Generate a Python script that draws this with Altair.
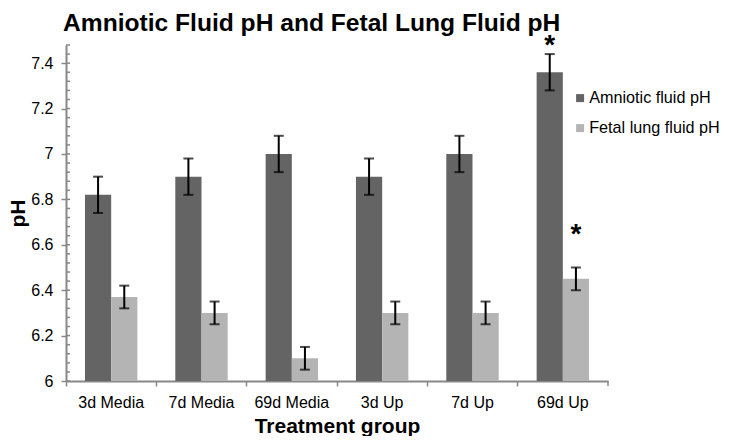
import altair as alt
import pandas as pd

groups = ["3d Media", "7d Media", "69d Media", "3d Up", "7d Up", "69d Up"]
series = ["Amniotic fluid pH", "Fetal lung fluid pH"]
amniotic = [6.82, 6.90, 7.00, 6.90, 7.00, 7.36]
amniotic_err = [0.08, 0.08, 0.08, 0.08, 0.08, 0.08]
lung = [6.37, 6.30, 6.10, 6.30, 6.30, 6.45]
lung_err = [0.05, 0.05, 0.05, 0.05, 0.05, 0.05]
major_ticks = [6.0, 6.2, 6.4, 6.6, 6.8, 7.0, 7.2, 7.4]
star_groups = ["69d Up", "69d Up"]
star_series = ["Amniotic fluid pH", "Fetal lung fluid pH"]
star_y = [7.50, 6.67]

colors = ["#646464", "#b4b4b4"]
axis_grey = "#888888"

rows = []
for g, v, e in zip(groups, amniotic, amniotic_err):
    rows.append({"group": g, "series": series[0], "value": v, "lo": v - e, "hi": v + e})
for g, v, e in zip(groups, lung, lung_err):
    rows.append({"group": g, "series": series[1], "value": v, "lo": v - e, "hi": v + e})
df = pd.DataFrame(rows)

minor = pd.DataFrame({"t": [round(6.0 + 0.04 * i, 2) for i in range(38)]})
stars = pd.DataFrame({"group": star_groups, "series": star_series, "y": star_y, "txt": ["*", "*"]})

ydom = [6.0, 7.48]
xscale = alt.Scale(domain=groups, paddingInner=0, paddingOuter=0)
xoff = alt.XOffset("series:N", scale=alt.Scale(domain=series, paddingInner=0, paddingOuter=0.724))

x_enc = alt.X(
    "group:N", scale=xscale, sort=groups,
    axis=alt.Axis(title="Treatment group", labelAngle=0, bandPosition=0,
                  labelFontSize=16, labelColor="#000", labelFont="Liberation Sans",
                  labelPadding=8, tickSize=5, titleFontSize=21, titleFont="Liberation Sans",
                  titleFontWeight="bold", titleColor="#000", titlePadding=5,
                  domainColor=axis_grey, domainWidth=2, tickColor=axis_grey, tickWidth=1.5,
                  grid=False),
)

y_enc = alt.Y(
    "value:Q", scale=alt.Scale(domain=ydom, nice=False, zero=False),
    axis=alt.Axis(title="pH", values=major_ticks, format="~g", labelFontSize=16,
                  labelColor="#000", labelFont="Liberation Sans", labelPadding=8,
                  tickSize=5, tickColor=axis_grey, tickWidth=1.5, domainColor=axis_grey,
                  domainWidth=2, titleFontSize=21, titleFont="Liberation Sans",
                  titleFontWeight="bold", titleColor="#000", titlePadding=2, grid=False),
)

bars = alt.Chart(df).mark_bar().encode(
    x=x_enc,
    xOffset=xoff,
    y=y_enc,
    y2=alt.datum(6.0),
    color=alt.Color("series:N", scale=alt.Scale(domain=series, range=colors),
                    legend=alt.Legend(title=None, orient="none", legendX=506, legendY=45,
                                      symbolType="square", symbolSize=64, symbolStrokeWidth=0,
                                      labelFontSize=16.2, labelFont="Liberation Sans",
                                      labelColor="#000", rowPadding=13, labelOffset=1,
                                      padding=0, labelLimit=200)),
)

err = alt.Chart(df).mark_rule(color="#000", strokeWidth=2).encode(
    x=alt.X("group:N", scale=xscale, sort=groups),
    xOffset=xoff,
    y=alt.Y("lo:Q"),
    y2="hi:Q",
)
cap_lo = alt.Chart(df).mark_tick(color="#000", thickness=2, size=10).encode(
    x=alt.X("group:N", scale=xscale, sort=groups), xOffset=xoff, y="lo:Q")
cap_hi = alt.Chart(df).mark_tick(color="#000", thickness=2, size=10).encode(
    x=alt.X("group:N", scale=xscale, sort=groups), xOffset=xoff, y="hi:Q")

minor_ticks = alt.Chart(minor).mark_rule(color=axis_grey, strokeWidth=1.5).encode(
    y="t:Q", x=alt.value(0), x2=alt.value(4))

end_tick = alt.Chart(pd.DataFrame({"a": [0]})).mark_rule(color=axis_grey, strokeWidth=1.5).encode(
    x=alt.value(542), y=alt.value(336), y2=alt.value(341))

star = alt.Chart(stars).mark_text(fontSize=28, fontWeight="bold", color="#000",
                                  baseline="middle", dy=6, font="Liberation Sans").encode(
    x=alt.X("group:N", scale=xscale, sort=groups), xOffset=xoff, y="y:Q", text="txt:N")

chart = alt.layer(bars, err, cap_lo, cap_hi, minor_ticks, end_tick, star).properties(
    width=542, height=336,
    autosize=alt.AutoSizeParams(type="none"),
    padding={"left": 58, "top": 37, "right": 116, "bottom": 55},
    title=alt.TitleParams("Amniotic Fluid pH and Fetal Lung Fluid pH", anchor="start",
                          frame="group", font="Liberation Sans", fontSize=24.6,
                          fontWeight="bold", color="#000", dx=-3, dy=8),
).configure_view(stroke=None)

chart.save("out.html", embed_options={"renderer": "svg", "actions": False})
